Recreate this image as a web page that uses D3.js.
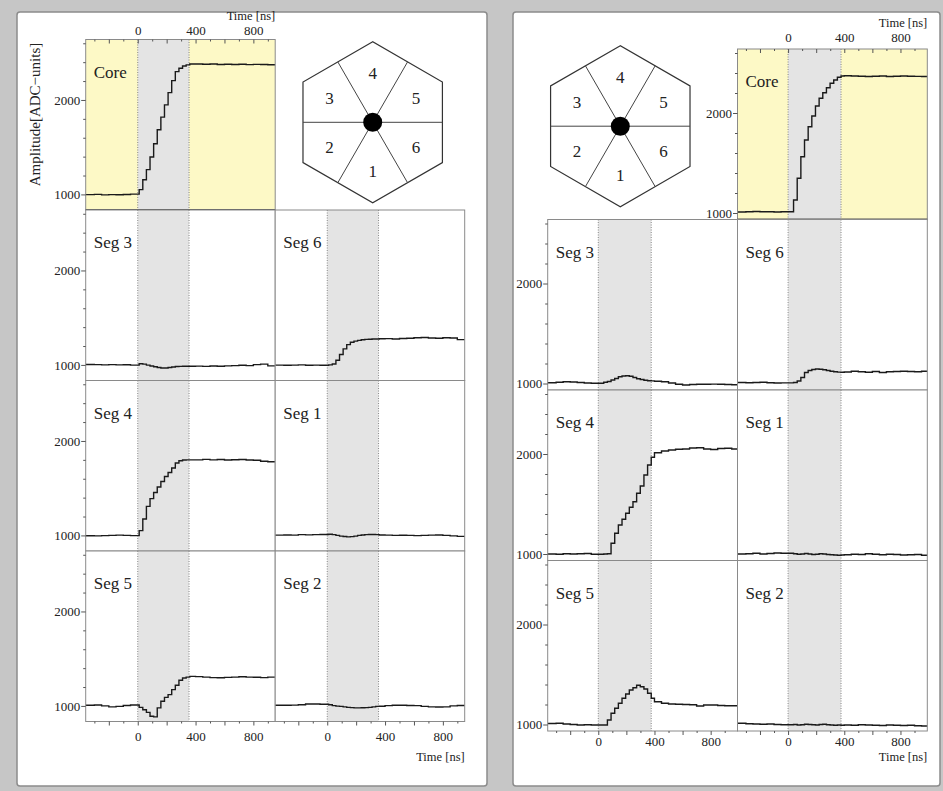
<!DOCTYPE html>
<html lang="en">
<head>
<meta charset="UTF-8">
<title>Core and segment pulses</title>
<script src="https://cdn.jsdelivr.net/npm/d3@7"></script>
<style>
  body { margin: 0; background: #c6c6c6; }
  svg { display: block; }
  text { font-family: "Liberation Serif", "DejaVu Serif", serif; fill: #222; }
</style>
</head>
<body>
<svg width="943" height="791"></svg>
<script>
// sample times [ns]: coarse on the baselines, one per ADC step on the rise
const timesL = [-360,-300,-250,-200,-150,-100,-50, 10,35,60,85,110,135,160,185,210,235,260,285,310,335,360, 400,450,500,550,600,650,700,750,800,850,900];
const timesR = [-360,-300,-250,-200,-150,-100,-50, 39,65,91,117,143,169,195,221,247,273,299,325,351,377, 400,450,500,550,600,650,700,750,800,850,900,950];

// left event, amplitudes [ADC units]
const coreL = [998,1000,995,998,996,999,1003, 1051,1156,1262,1396,1537,1684,1818,1948,2078,2205,2300,2336,2360,2371,2380, 2381,2378,2380,2376,2378,2375,2378,2374,2377,2375,2373];
const seg3L = [1005,1003,1000,1003,1000,1002,998, 1012,1008,998,988,980,973,968,968,972,978,983,985,986,986,986, 987,985,988,986,990,993,996,993,1003,1008,990];
const seg6L = [998,996,998,1000,996,998,996, 1000,1010,1050,1110,1170,1215,1240,1252,1260,1266,1270,1272,1275,1275,1277, 1278,1275,1280,1283,1288,1290,1285,1283,1287,1285,1268];
const seg4L = [997,995,998,1000,1003,1000,998, 1051,1174,1307,1389,1455,1512,1571,1624,1666,1713,1766,1790,1798,1800,1800, 1800,1805,1800,1803,1798,1801,1803,1798,1795,1785,1780];
const seg1L = [1003,1005,1003,1008,1006,1008,1010, 1012,1008,1000,993,988,985,987,993,1000,1005,1008,1010,1010,1008,1005, 1003,1000,1002,1000,998,1000,1003,1005,1000,995,990];
const seg5L = [1007,1010,1000,990,995,1005,1010, 985,960,932,890,884,979,1049,1090,1119,1172,1218,1271,1296,1305,1313, 1310,1305,1300,1298,1302,1305,1308,1305,1303,1300,1305];
const seg2L = [1007,1007,1008,1012,1020,1021,1018, 1012,1003,998,995,990,985,982,979,979,980,982,985,990,995,997, 1003,1007,1007,1005,1003,995,990,988,990,1000,1005];

// right event
const coreR = [1010,1012,1015,1013,1012,1010,1012, 1130,1347,1563,1730,1863,1970,2070,2147,2203,2253,2297,2330,2357,2370, 2372,2370,2368,2365,2367,2370,2365,2368,2370,2368,2366,2365];
const seg3R = [1008,1012,1018,1015,1010,1005,1003, 1012,1020,1035,1050,1068,1075,1078,1072,1060,1048,1040,1033,1028,1026, 1022,1018,1005,992,985,990,993,992,994,992,990,988];
const seg6R = [1010,1008,1010,1012,1008,1005,1006, 1010,1025,1060,1110,1130,1140,1145,1143,1138,1130,1122,1118,1114,1112, 1115,1122,1118,1112,1120,1110,1118,1120,1122,1120,1118,1122];
const seg4R = [1000,998,1002,1000,1003,1005,998, 1000,1002,1107,1207,1290,1347,1407,1467,1523,1607,1680,1790,1890,1967, 2013,2030,2040,2047,2050,2060,2063,2050,2045,2055,2058,2050];
const seg1R = [1000,1003,1007,1000,1005,1010,1008, 1003,998,1000,1005,1000,995,998,1003,1000,995,992,990,988,990, 993,998,995,1003,997,993,998,995,990,993,995,988];
const seg5R = [1010,1012,1005,1000,995,998,995, 995,1045,1112,1162,1212,1262,1305,1345,1368,1392,1378,1355,1312,1262, 1228,1212,1205,1202,1200,1198,1185,1195,1195,1190,1188,1188];
const seg2R = [1012,1008,1005,1003,1005,1000,998, 1000,995,998,1002,1000,998,995,1000,1003,998,995,992,995,992, 995,993,998,995,992,990,995,993,990,992,988,985];

const timeTicks = [0, 400, 800];
const ampTicks = [1000, 2000];
const hexLabels = ["5", "4", "3", "2", "1", "6"]; // sectors, counter-clockwise from 30 deg
const gridL = [["Core", null], ["Seg 3", "Seg 6"], ["Seg 4", "Seg 1"], ["Seg 5", "Seg 2"]];
const gridR = [[null, "Core"], ["Seg 3", "Seg 6"], ["Seg 4", "Seg 1"], ["Seg 5", "Seg 2"]];

const panels = [
  { box: [17, 12, 470, 774], left: 85.7, top: 39.5, colW: 189.5, rowH: 170.5,
    xDom: [-360, 951], yDom: [835, 2640], shadeEnd: 355, times: timesL,
    topPad: 5, topTitle: 19.5, botPad: 6, botTitle: 761, hex: [372.7, 122.3], grid: gridL, ampLabel: true,
    traces: { "Core": coreL, "Seg 3": seg3L, "Seg 6": seg6L, "Seg 4": seg4L, "Seg 1": seg1L, "Seg 5": seg5L, "Seg 2": seg2L } },
  { box: [513, 12, 427, 774], left: 547.7, top: 49, colW: 189.8, rowH: 170.5,
    xDom: [-360, 991], yDom: [935, 2640], shadeEnd: 377, times: timesR,
    topPad: 7, topTitle: 22, botPad: 2, botTitle: 761, hex: [620.3, 126.2], grid: gridR, ampLabel: false,
    traces: { "Core": coreR, "Seg 3": seg3R, "Seg 6": seg6R, "Seg 4": seg4R, "Seg 1": seg1R, "Seg 5": seg5R, "Seg 2": seg2R } }
];

const svg = d3.select("svg");
const rad = Math.PI / 180;

function styleAxis(a) {
  a.select(".domain").remove();
  a.attr("font-family", "Liberation Serif, serif").attr("font-size", 13);
  a.selectAll("line").attr("stroke", "#555");
  a.selectAll("text").attr("fill", "#222");
}

function drawHex(g, cx, cy) {
  const R = 80.5;
  const corners = d3.range(6).map(k => [cx + R * Math.cos((90 + 60 * k) * rad), cy - R * Math.sin((90 + 60 * k) * rad)]);
  g.append("polygon").attr("points", corners.join(" "))
    .attr("fill", "#fff").attr("stroke", "#333").attr("stroke-width", 1.2);
  const rm = R * Math.cos(30 * rad);
  d3.range(6).forEach(k => {
    g.append("line").attr("x1", cx).attr("y1", cy)
      .attr("x2", cx + rm * Math.cos(60 * k * rad)).attr("y2", cy - rm * Math.sin(60 * k * rad))
      .attr("stroke", "#444").attr("stroke-width", 1);
  });
  g.append("circle").attr("cx", cx).attr("cy", cy).attr("r", 9.5).attr("fill", "#000");
  hexLabels.forEach((lab, k) => {
    const a = (30 + 60 * k) * rad;
    g.append("text").attr("x", cx + 50 * Math.cos(a)).attr("y", cy - 49 * Math.sin(a))
      .attr("text-anchor", "middle").attr("dy", "0.35em").attr("font-size", 17).text(lab);
  });
}

panels.forEach(p => {
  const g = svg.append("g");
  g.append("rect").attr("x", p.box[0]).attr("y", p.box[1]).attr("width", p.box[2]).attr("height", p.box[3])
    .attr("rx", 3).attr("fill", "#fff").attr("stroke", "#8c8c8c").attr("stroke-width", 1.5);

  p.grid.forEach((row, r) => row.forEach((name, c) => {
    const x0 = p.left + c * p.colW, y0 = p.top + r * p.rowH;
    if (!name) { drawHex(g, p.hex[0], p.hex[1]); return; }
    const x = d3.scaleLinear().domain(p.xDom).range([x0, x0 + p.colW]);
    const y = d3.scaleLinear().domain(p.yDom).range([y0 + p.rowH, y0]);
    const isCore = name === "Core";
    const cell = g.append("g");

    cell.append("rect").attr("x", x0).attr("y", y0).attr("width", p.colW).attr("height", p.rowH)
      .attr("fill", isCore ? "#fdf9c6" : "#fff");
    cell.append("rect").attr("x", x(0)).attr("y", y0).attr("width", x(p.shadeEnd) - x(0)).attr("height", p.rowH)
      .attr("fill", "#e4e4e4");
    [0, p.shadeEnd].forEach(t => {
      cell.append("line").attr("x1", x(t)).attr("x2", x(t)).attr("y1", y0).attr("y2", y0 + p.rowH)
        .attr("stroke", "#6e6e6e").attr("stroke-width", 0.8).attr("stroke-dasharray", "1,1.5");
    });

    const vals = p.traces[name];
    const pts = p.times.map((t, i) => [t, vals[i]]);
    pts.push([p.xDom[1], vals[vals.length - 1]]);
    const line = d3.line().x(d => x(d[0])).y(d => y(d[1])).curve(d3.curveStepAfter);
    cell.append("path").attr("d", line(pts)).attr("fill", "none")
      .attr("stroke", "#1a1a1a").attr("stroke-width", 1.4);

    cell.append("rect").attr("x", x0).attr("y", y0).attr("width", p.colW).attr("height", p.rowH)
      .attr("fill", "none").attr("stroke", "#8a8a8a").attr("stroke-width", 1);
    if (isCore) {
      cell.append("line").attr("x1", x0).attr("x2", x0 + p.colW).attr("y1", y0 + p.rowH).attr("y2", y0 + p.rowH)
        .attr("stroke", "#555").attr("stroke-width", 2);
    }
    cell.append("text").attr("x", x0 + 8).attr("y", y0 + 38).attr("font-size", 17).text(name);

    // amplitude axis on the leftmost plot of each row
    if (c === 0 || !row[c - 1]) {
      const minor = d3.range(1000, p.yDom[1], 200).filter(v => !ampTicks.includes(v));
      cell.append("g").attr("transform", `translate(${x0},0)`)
        .call(d3.axisLeft(y).tickValues(minor).tickSize(2.5).tickFormat(""))
        .call(styleAxis);
      cell.append("g").attr("transform", `translate(${x0},0)`)
        .call(d3.axisLeft(y).tickValues(ampTicks).tickSize(4.5).tickPadding(1).tickFormat(d3.format("d")))
        .call(styleAxis);
    }

    const minorT = d3.range(-300, p.xDom[1], 100).filter(v => v % 200 !== 0);
    const majorT = d3.range(-200, p.xDom[1], 200);
    const fmtT = d => timeTicks.includes(d) ? d : "";
    if (isCore) {
      cell.append("g").attr("transform", `translate(0,${y0})`)
        .call(d3.axisTop(x).tickValues(minorT).tickSizeInner(-2).tickSizeOuter(0).tickFormat(""))
        .call(styleAxis);
      cell.append("g").attr("transform", `translate(0,${y0})`)
        .call(d3.axisTop(x).tickValues(majorT).tickSizeInner(-4).tickSizeOuter(0).tickPadding(p.topPad).tickFormat(fmtT))
        .call(styleAxis);
      cell.append("text").attr("x", x0 + p.colW).attr("y", y0 - p.topTitle).attr("text-anchor", "end")
        .attr("font-size", 12.5).text("Time [ns]");
    }
    if (r === p.grid.length - 1) {
      const yb = y0 + p.rowH;
      cell.append("g").attr("transform", `translate(0,${yb})`)
        .call(d3.axisBottom(x).tickValues(minorT).tickSize(2).tickFormat(""))
        .call(styleAxis);
      cell.append("g").attr("transform", `translate(0,${yb})`)
        .call(d3.axisBottom(x).tickValues(majorT).tickSize(4).tickPadding(p.botPad).tickFormat(fmtT))
        .call(styleAxis);
      if (c === 1) {
        cell.append("text").attr("x", x0 + p.colW).attr("y", p.botTitle).attr("text-anchor", "end")
          .attr("font-size", 12.5).text("Time [ns]");
      }
    }
  }));

  if (p.ampLabel) {
    g.append("text").attr("transform", "translate(35,114.5) rotate(-90)")
      .attr("text-anchor", "middle").attr("dy", "0.35em").attr("font-size", 15)
      .text("Amplitude[ADC\u2212units]");
  }
});
</script>
</body>
</html>
